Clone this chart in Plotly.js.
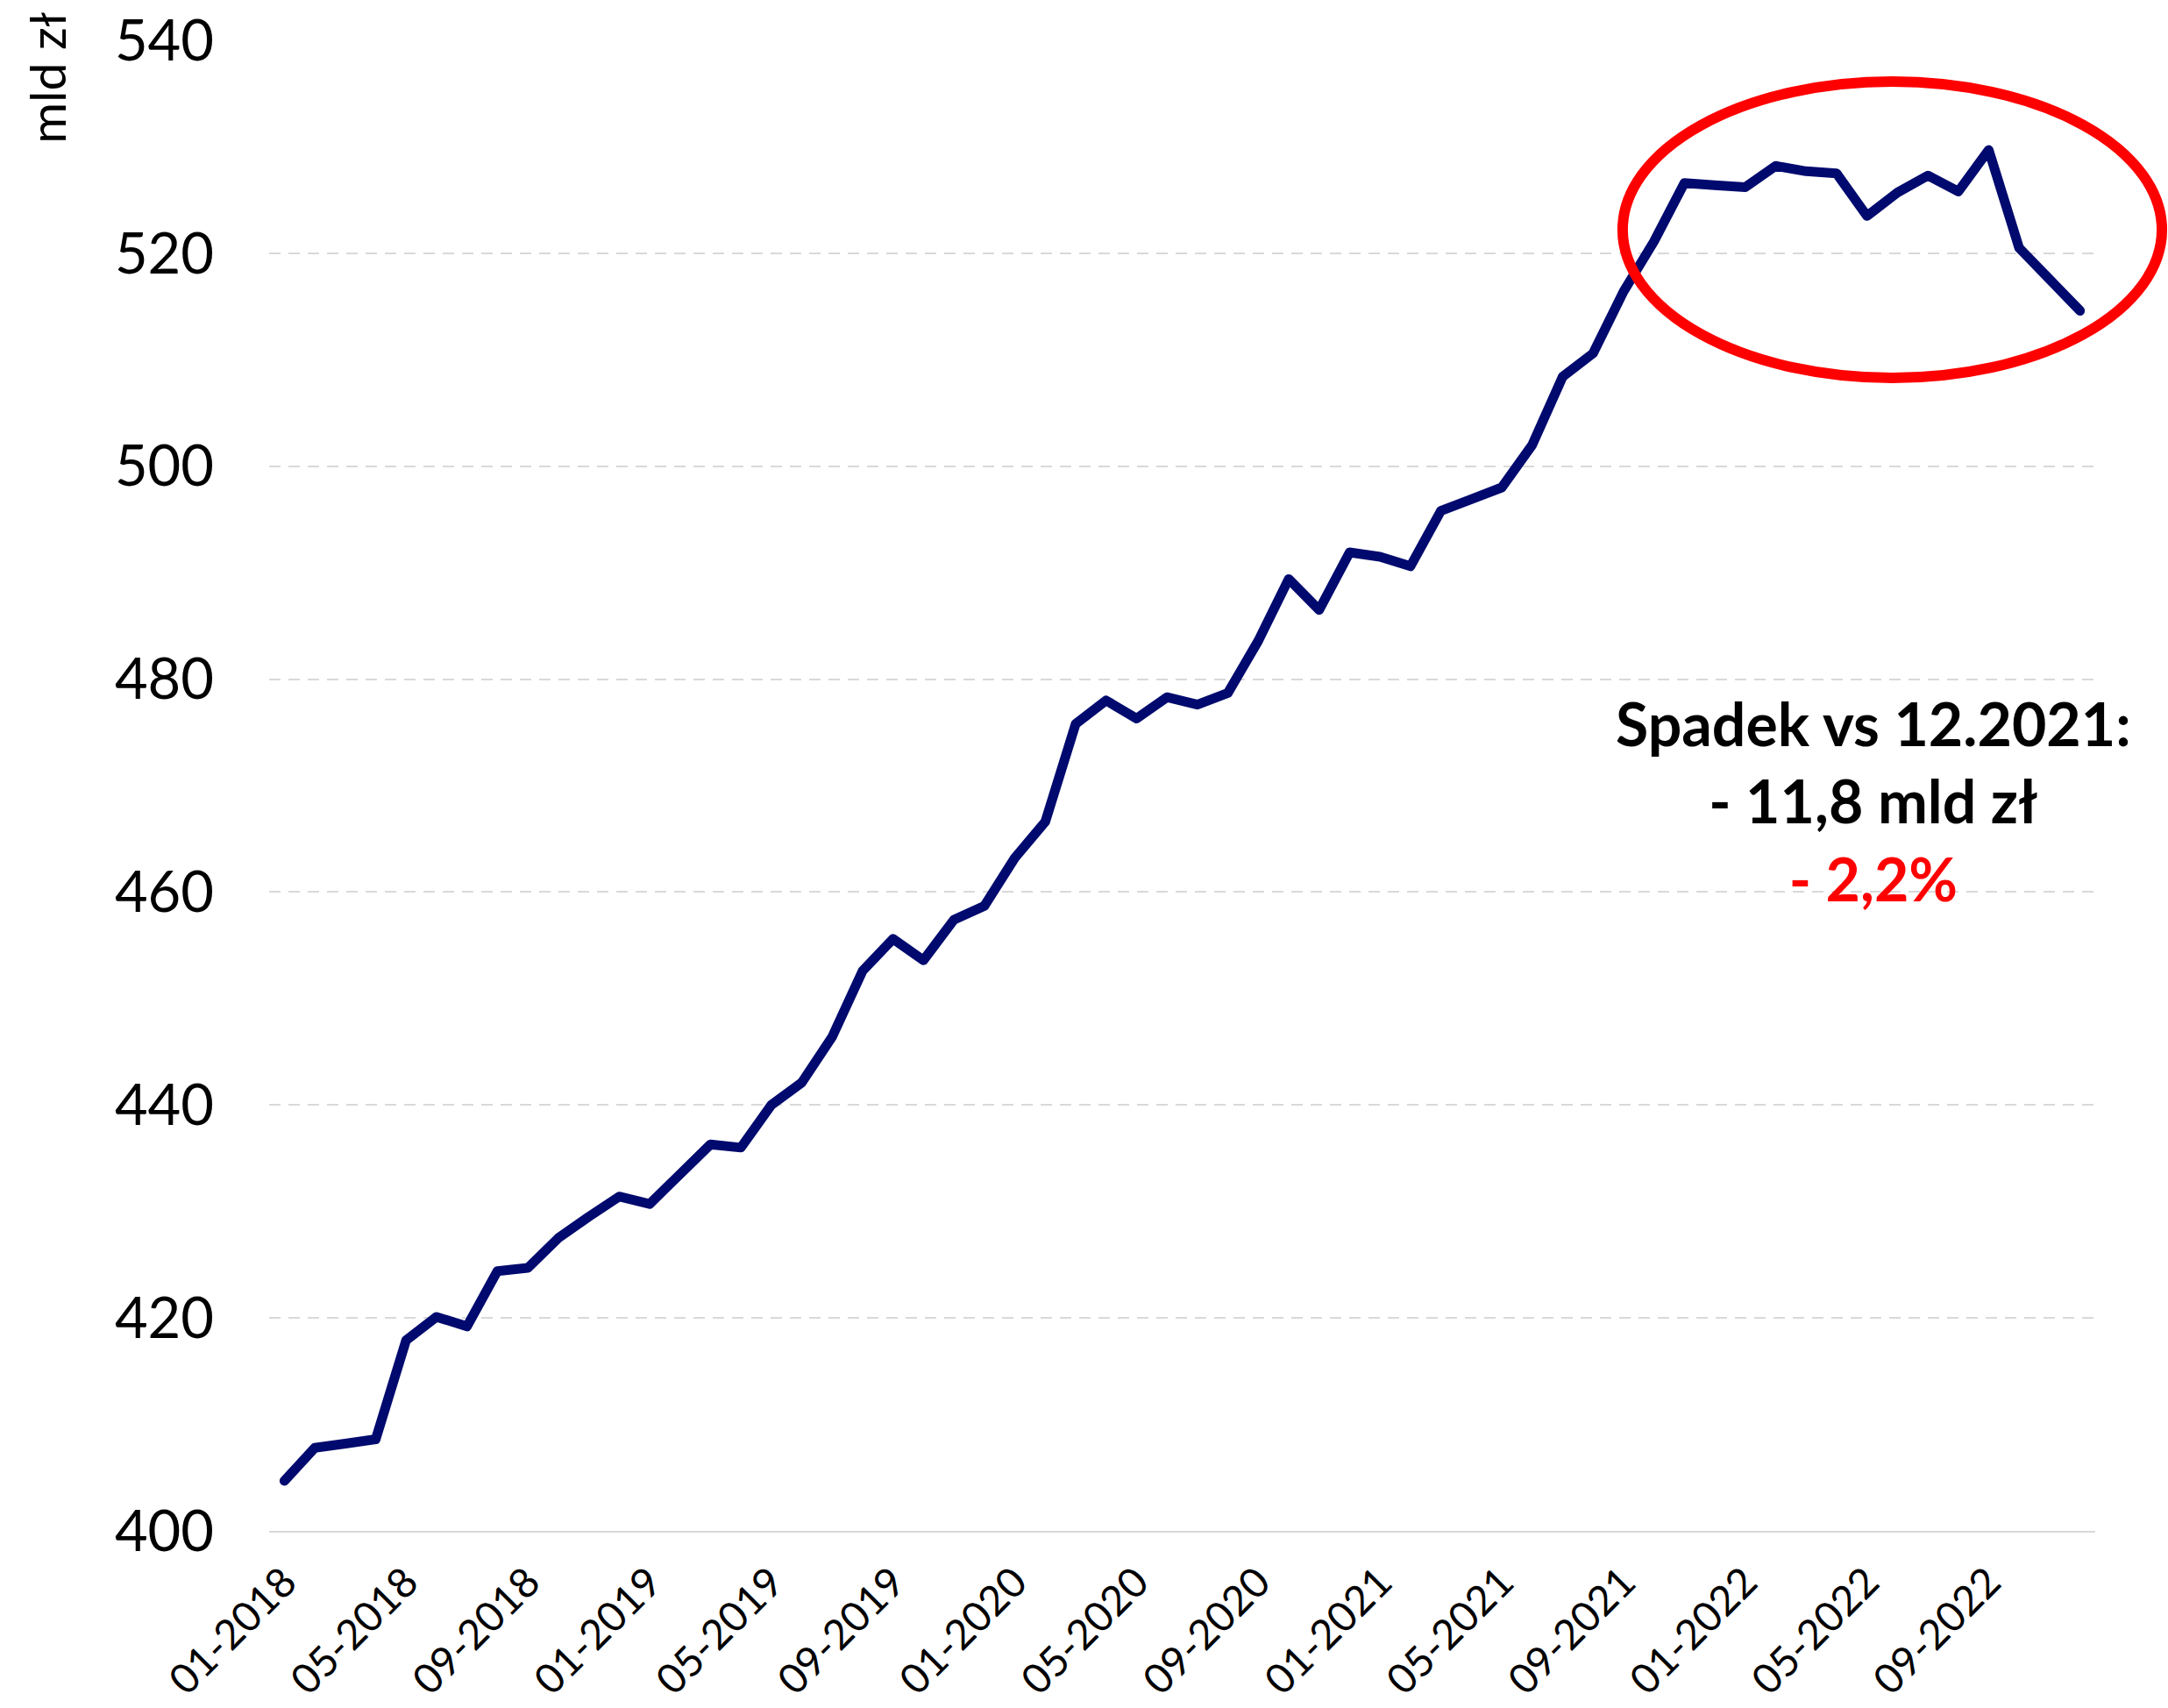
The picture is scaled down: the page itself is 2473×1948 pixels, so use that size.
<!DOCTYPE html>
<html>
<head>
<meta charset="utf-8">
<script src="https://cdn.plot.ly/plotly-3.0.1.min.js"></script>
<style>
html,body{margin:0;padding:0;background:#fff;}
#chart{width:2473px;height:1948px;}
.scatterlayer .js-line{stroke-linecap:round !important;stroke-linejoin:round !important;}
</style>
</head>
<body>
<div id="chart"></div>
<script>
// Months 01-2018 .. 12-2022
const months = [
 "01-2018","02-2018","03-2018","04-2018","05-2018","06-2018","07-2018","08-2018","09-2018","10-2018","11-2018","12-2018",
 "01-2019","02-2019","03-2019","04-2019","05-2019","06-2019","07-2019","08-2019","09-2019","10-2019","11-2019","12-2019",
 "01-2020","02-2020","03-2020","04-2020","05-2020","06-2020","07-2020","08-2020","09-2020","10-2020","11-2020","12-2020",
 "01-2021","02-2021","03-2021","04-2021","05-2021","06-2021","07-2021","08-2021","09-2021","10-2021","11-2021","12-2021",
 "01-2022","02-2022","03-2022","04-2022","05-2022","06-2022","07-2022","08-2022","09-2022","10-2022","11-2022","12-2022"
];
// values, mld zł
const values = [
 404.7, 407.8, 408.2, 408.6, 417.9, 420.1, 419.2, 424.4, 424.7, 427.5, 429.5, 431.4,
 430.7, 433.4, 436.3, 436.0, 440.0, 442.1, 446.4, 452.6, 455.6, 453.6, 457.4, 458.7,
 463.2, 466.6, 475.8, 478.0, 476.3, 478.3, 477.6, 478.7, 483.6, 489.4, 486.5, 491.9,
 491.5, 490.6, 495.8, 496.9, 498.0, 502.0, 508.4, 510.6, 516.4, 521.1, 526.6, 526.4,
 526.2, 528.2, 527.7, 527.5, 523.5, 525.7, 527.3, 525.8, 529.7, 520.5, 517.6, 514.6
];
const tickMonths = ["01-2018","05-2018","09-2018","01-2019","05-2019","09-2019","01-2020","05-2020","09-2020","01-2021","05-2021","09-2021","01-2022","05-2022","09-2022"];
const yTicks = [400, 420, 440, 460, 480, 500, 520, 540];
const yTitle = "mld zł";
const noteLines = ["Spadek vs 12.2021:", "- 11,8 mld zł", "- 2,2%"];

const FONT = "Lato, 'Open Sans', sans-serif";

const trace = {
  x: months,
  y: values,
  type: "scatter",
  mode: "lines",
  line: {color: "#000a6e", width: 11},
  hoverinfo: "skip"
};

const layout = {
  width: 2473,
  height: 1948,
  margin: {l: 307, r: 83, t: 46, b: 202},
  paper_bgcolor: "#ffffff",
  plot_bgcolor: "#ffffff",
  showlegend: false,
  font: {family: FONT, color: "#000000"},
  xaxis: {
    type: "category",
    range: [-0.5, 59.5],
    tickmode: "array",
    tickvals: tickMonths,
    ticktext: tickMonths,
    tickangle: -45,
    tickfont: {family: FONT, size: 47, color: "#000000"},
    showgrid: false,
    showline: true,
    linecolor: "#d9d9d9",
    linewidth: 2,
    ticks: "",
    ticklabelstandoff: 10,
    zeroline: false,
    fixedrange: true
  },
  yaxis: {
    range: [400, 540],
    tickmode: "array",
    tickvals: yTicks,
    ticktext: yTicks.map(String),
    tickfont: {family: FONT, size: 65, color: "#000000"},
    showgrid: true,
    gridcolor: "#d9d9d9",
    gridwidth: 2,
    griddash: "13px,9px",
    showline: false,
    zeroline: false,
    ticks: "",
    ticklabelstandoff: 62,
    fixedrange: true
  },
  shapes: [{
    type: "circle",
    xref: "paper", yref: "paper",
    x0: 0.7412, x1: 1.0365,
    y0: 0.7735, y1: 0.9724,
    line: {color: "#ff0000", width: 12},
    fillcolor: "rgba(0,0,0,0)",
    layer: "above"
  }],
  annotations: [
    {
      xref: "paper", yref: "paper",
      x: -0.122, y: 1.02,
      xanchor: "center", yanchor: "top",
      text: yTitle,
      textangle: -90,
      showarrow: false,
      font: {family: FONT, size: 57, color: "#000000"}
    },
    {
      xref: "paper", yref: "paper",
      x: 0.8786, y: 0.49,
      xanchor: "center", yanchor: "middle",
      align: "center",
      text: "<b>" + noteLines[0] + "</b><br><b>" + noteLines[1] + "</b><br><b><span style='color:#ff0000'>" + noteLines[2] + "</span></b>",
      showarrow: false,
      font: {family: FONT, size: 68, color: "#000000"}
    }
  ]
};

Plotly.newPlot("chart", [trace], layout, {displayModeBar: false, staticPlot: true});
</script>
</body>
</html>
